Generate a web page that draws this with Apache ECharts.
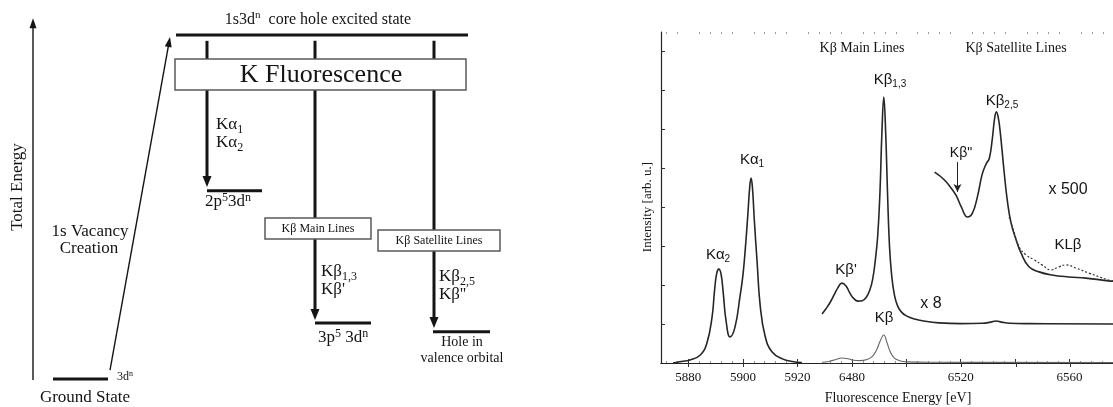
<!DOCTYPE html>
<html><head><meta charset="utf-8">
<script src="https://cdn.jsdelivr.net/npm/echarts@6/dist/echarts.min.js"></script>
<style>html,body{margin:0;padding:0;background:#fff}#c{width:1113px;height:407px}</style>
</head><body><div id="c"></div>
<script>
// ---------- Spectrum data ----------
const kaEnergy    = [5874.4,5877.5,5880.6,5884.3,5886.8,5888.7,5889.6,5890.4,5891.2,5892.0,5892.8,5893.8,5895.3,5897.1,5898.9,5900.0,5900.9,5901.8,5902.5,5903.0,5903.5,5904.2,5905.2,5906.3,5908.1,5910.7,5914.7,5918.0,5921.6];
const kaIntensity = [0.00,0.04,0.08,0.20,0.51,1.18,1.85,2.30,2.41,2.28,1.80,1.10,0.67,0.92,1.69,2.25,2.95,3.80,4.52,4.75,4.50,3.65,2.60,1.50,0.70,0.28,0.10,0.04,0.01];

const kbMainEnergy    = [6469.0,6470.5,6472.0,6473.5,6474.8,6476.3,6477.8,6479.2,6480.6,6482.2,6483.8,6485.2,6486.5,6487.6,6488.6,6489.5,6490.3,6491.0,6491.7,6492.4,6493.1,6493.8,6494.6,6495.6,6496.8,6498.3,6500.0,6503.0,6507.0,6512.0,6520.0,6528.0,6531.0,6533.0,6535.0,6538.0,6545.0,6576.0];
const kbMainIntensityX8 = [1.26,1.40,1.56,1.76,1.93,2.05,1.98,1.80,1.66,1.59,1.60,1.68,1.86,2.15,2.65,3.30,4.40,5.90,6.83,5.90,4.30,3.00,2.25,1.75,1.46,1.30,1.21,1.13,1.07,1.03,1.01,1.02,1.05,1.08,1.05,1.02,1.01,1.00];

const kbLowEnergy    = [6469.0,6471.5,6474.0,6476.3,6478.5,6480.5,6483.0,6485.5,6487.5,6489.0,6490.3,6491.7,6492.9,6494.0,6495.5,6497.5,6500.0,6510.0,6576.0];
const kbLowIntensity = [0.02,0.04,0.09,0.13,0.11,0.07,0.06,0.09,0.17,0.33,0.55,0.72,0.52,0.30,0.13,0.06,0.03,0.02,0.01];

const satEnergy    = [6510.4,6514.0,6517.0,6518.4,6520.2,6522.5,6524.3,6526.1,6527.9,6529.4,6530.5,6531.6,6532.4,6533.1,6533.8,6534.5,6536.0,6537.1,6538.5,6540.4,6542.2,6545.1,6548.8,6553.5,6559.7,6566.0,6574.4,6576.0];
const satIntensityX500 = [4.90,4.70,4.44,4.29,4.01,3.75,3.85,4.26,4.85,5.12,5.25,5.75,6.25,6.45,6.30,5.95,4.88,4.19,3.60,3.16,2.82,2.47,2.34,2.26,2.21,2.18,2.11,2.10];

const klbEnergy    = [6537.8,6539.6,6541.5,6544.1,6547.0,6549.9,6553.2,6556.1,6558.7,6562.3,6567.1,6574.4,6576.0];
const klbIntensity = [3.75,3.36,2.98,2.77,2.65,2.52,2.39,2.47,2.52,2.44,2.31,2.13,2.11];

// Kβ'' pointer arrow (energy, intensity from -> to)
const kbppArrowEnergy = 6518.8;
const kbppArrowFrom = 5.16, kbppArrowTo = 4.39;

// ---------- Tick labels ----------
const kaTickLabels = [5880, 5900, 5920];
const kbTickLabels = [6480, 6520, 6560];
const kbMajorTicks = [6480, 6500, 6520, 6540, 6560];
const intensityTicks = [1, 2, 3, 4, 5, 6, 7, 8];

// ---------- Energy level diagram (schematic, energy in % of core-hole energy) ----------
const levelEnergy = [0, 100, 54.7, 16.3, 13.7];          // ground, 1s core hole, 2p hole, 3p hole, valence hole
const levelStart  = [53, 176, 207, 315, 433];             // layout column start
const levelEnd    = [108, 468, 262, 371, 490];            // layout column end
const arrowX0 = [207, 315, 434, 110, 33];
const arrowE0 = [98.3, 98.3, 98.3, 2.6, -0.3];
const arrowX1 = [207, 315, 434, 170, 33];
const arrowE1 = [55.8, 17.15, 14.8, 99.4, 104.9];
const arrowKinds = ['thick', 'thick', 'thick', 'thin', 'thin'];
const boxX0 = [175, 265, 378];
const boxX1 = [466, 371, 500];
const boxETop = [93.0, 46.8, 43.3];
const boxEBottom = [84.0, 40.7, 37.2];

// ---------- helpers ----------
const zip = (a, b) => a.map((v, i) => [v, b[i]]);
const SERIF = '"Liberation Serif","DejaVu Serif",serif';
const SANS = '"Liberation Sans","DejaVu Sans",sans-serif';
const INK = '#141414';

function minorList(from, to, step, majors) {
  const out = [];
  for (let v = from; v <= to + 1e-9; v += step) if (majors.indexOf(v) < 0) out.push(v);
  return out;
}
const virtMajor = [5880,5900,5920,5940,5960,5980,6000,6020];
const virtMinor = minorList(5872, 6032, 4, virtMajor);
const kaMinor = minorList(5872, 5920, 4, [5880,5900,5920]);
const kbMinor = minorList(6472, 6572, 4, kbMajorTicks);

function rich(size, fam) {
  const lh = Math.round(size * 1.25);
  const s = Math.round(size * 0.68);
  return {
    b: {fontSize: size, fontFamily: fam, lineHeight: lh, color: INK},
    s: {fontSize: s, fontFamily: fam, lineHeight: s, padding: [lh - s + 1, 0, 0, 0], verticalAlign: 'bottom', color: INK},
    p: {fontSize: s, fontFamily: fam, lineHeight: s, verticalAlign: 'top', color: INK}
  };
}
function txt(x, y, text, size, fam, align, rot) {
  return {
    type: 'text', x: x, y: y, rotation: rot || 0, silent: true, z: 100,
    style: {
      text: text, rich: rich(size, fam), fontSize: size, fontFamily: fam, fill: INK,
      align: align || 'center', verticalAlign: 'middle',
      textAlign: align || 'center', textVerticalAlign: 'middle'
    }
  };
}

const graphics = [
  // right panel
  txt(862, 48, '{b|Kβ Main Lines}', 14, SERIF),
  txt(1016, 48, '{b|Kβ Satellite Lines}', 14, SERIF),
  txt(890, 80, '{b|Kβ}{s|1,3}', 15, SANS),
  txt(1002, 101, '{b|Kβ}{s|2,5}', 15, SANS),
  txt(961, 153, '{b|Kβ"}', 14, SANS),
  txt(1068, 190, '{b|x 500}', 16, SANS),
  txt(1068, 245, '{b|KLβ}', 15, SANS),
  txt(752, 160, '{b|Kα}{s|1}', 15, SANS),
  txt(718, 255, '{b|Kα}{s|2}', 15, SANS),
  txt(846, 270, "{b|Kβ'}", 15, SANS),
  txt(884, 318, '{b|Kβ}', 15, SANS),
  txt(931, 304, '{b|x 8}', 16, SANS),
  txt(898, 398, '{b|Fluorescence Energy [eV]}', 14, SERIF),
  txt(648, 207, '{b|Intensity [arb. u.]}', 13, SERIF, 'center', Math.PI / 2),
  // diagram
  txt(18, 187, '{b|Total Energy}', 17, SERIF, 'center', Math.PI / 2),
  txt(318, 20, '{b|1s3d}{p|n}{b|  core hole excited state}', 16, SERIF),
  txt(321, 75, '{b|K Fluorescence}', 26, SERIF),
  txt(216, 125, '{b|Kα}{s|1}', 17, SERIF, 'left'),
  txt(216, 143, '{b|Kα}{s|2}', 17, SERIF, 'left'),
  txt(228, 202, '{b|2p}{p|5}{b|3d}{p|n}', 17, SERIF),
  txt(318, 229, '{b|Kβ Main Lines}', 12, SERIF),
  txt(439, 241, '{b|Kβ Satellite Lines}', 12, SERIF),
  txt(321, 272, '{b|Kβ}{s|1,3}', 17, SERIF, 'left'),
  txt(321, 290, "{b|Kβ'}", 17, SERIF, 'left'),
  txt(343, 338, '{b|3p}{p|5}{b| 3d}{p|n}', 17, SERIF),
  txt(439, 277, '{b|Kβ}{s|2,5}', 17, SERIF, 'left'),
  txt(439, 295, "{b|Kβ''}", 17, SERIF, 'left'),
  txt(462, 342, '{b|Hole in}', 14, SERIF),
  txt(462, 358, '{b|valence orbital}', 14, SERIF),
  txt(90, 232, '{b|1s Vacancy}', 17, SERIF),
  txt(89, 249, '{b|Creation}', 17, SERIF),
  txt(117, 377, '{b|3d}{p|n}', 12, SERIF, 'left'),
  txt(85, 398, '{b|Ground State}', 17, SERIF)
];

const axisLineStyle = {color: '#222', width: 1.2};
const tickStyle = {color: '#333', width: 1};
const plainLabel = v => String(v);

function spectrum(xi, energy, inten, color, width, type) {
  return {type: 'line', xAxisIndex: xi, yAxisIndex: xi === 0 ? 0 : 1, data: zip(energy, inten),
    showSymbol: false, symbol: 'none', smooth: 0.45, silent: true,
    lineStyle: {color: color, width: width, type: type || 'solid'}};
}

const satSeries = spectrum(2, satEnergy, satIntensityX500, '#262626', 1.6);
satSeries.markLine = {silent: true, symbol: ['none', 'arrow'], symbolSize: [6, 8], label: {show: false},
  lineStyle: {color: '#222', width: 1, type: 'solid'},
  data: [[{coord: [kbppArrowEnergy, kbppArrowFrom]}, {coord: [kbppArrowEnergy, kbppArrowTo]}]]};

const option = {
  animation: false,
  backgroundColor: '#fff',
  grid: [
    {left: 661, top: 32, width: 53 * 2.73, height: 331},
    {left: 822.07, top: 32, width: 107 * 2.73, height: 331},
    {left: 661, top: 32, width: 452, height: 331},
    {left: 0, top: 35, width: 520, height: 344}
  ],
  xAxis: [
    {gridIndex: 0, type: 'value', min: 5870, max: 5923, position: 'bottom',
     axisLine: {lineStyle: axisLineStyle}, splitLine: {show: false},
     axisTick: {inside: true, length: 4, lineStyle: tickStyle, customValues: kaTickLabels},
     axisLabel: {customValues: kaTickLabels, formatter: plainLabel, fontFamily: SERIF, fontSize: 13, color: INK, margin: 8}},
    {gridIndex: 0, type: 'value', min: 5870, max: 5923, position: 'bottom',
     axisLine: {show: false}, splitLine: {show: false}, axisLabel: {show: false},
     axisTick: {inside: true, length: 2, lineStyle: {color: '#999', width: 1}, customValues: kaMinor}},
    {gridIndex: 1, type: 'value', min: 6469, max: 6576, position: 'bottom',
     axisLine: {lineStyle: axisLineStyle}, splitLine: {show: false},
     axisTick: {inside: true, length: 4, lineStyle: tickStyle, customValues: kbMajorTicks},
     axisLabel: {customValues: kbTickLabels, formatter: plainLabel, fontFamily: SERIF, fontSize: 13, color: INK, margin: 8}},
    {gridIndex: 1, type: 'value', min: 6469, max: 6576, position: 'bottom',
     axisLine: {show: false}, splitLine: {show: false}, axisLabel: {show: false},
     axisTick: {inside: true, length: 2, lineStyle: {color: '#999', width: 1}, customValues: kbMinor}},
    {gridIndex: 2, type: 'value', min: 5870, max: 5870 + 452 / 2.73, position: 'top',
     axisLine: {lineStyle: axisLineStyle}, splitLine: {show: false}, axisLabel: {show: false},
     axisTick: {inside: true, length: 4, lineStyle: tickStyle, customValues: virtMajor}},
    {gridIndex: 2, type: 'value', min: 5870, max: 5870 + 452 / 2.73, position: 'top',
     axisLine: {show: false}, splitLine: {show: false}, axisLabel: {show: false},
     axisTick: {inside: true, length: 2, lineStyle: {color: '#999', width: 1}, customValues: virtMinor}},
    {gridIndex: 3, type: 'value', min: 0, max: 520, show: false}
  ],
  yAxis: [
    {gridIndex: 0, type: 'value', min: 0, max: 8.5, show: false},
    {gridIndex: 1, type: 'value', min: 0, max: 8.5, show: false},
    {gridIndex: 2, type: 'value', min: 0, max: 8.5, position: 'left',
     axisLine: {show: true, lineStyle: axisLineStyle}, splitLine: {show: false}, axisLabel: {show: false},
     axisTick: {show: true, inside: true, length: 4, lineStyle: tickStyle, customValues: intensityTicks}},
    {gridIndex: 3, type: 'value', min: 0, max: 100, show: false}
  ],
  series: [
    spectrum(0, kaEnergy, kaIntensity, '#262626', 1.6),
    spectrum(2, kbMainEnergy, kbMainIntensityX8, '#262626', 1.6),
    spectrum(2, kbLowEnergy, kbLowIntensity, '#666', 1.1),
    satSeries,
    spectrum(2, klbEnergy, klbIntensity, '#333', 1.2, [2, 2]),
    // diagram: arrows (under the boxes)
    {type: 'custom', xAxisIndex: 6, yAxisIndex: 3, silent: true, clip: false,
     data: arrowX0.map((v, i) => [v, arrowE0[i], arrowX1[i], arrowE1[i]]),
     renderItem: function (params, api) {
       const p0 = api.coord([api.value(0), api.value(1)]);
       const p1 = api.coord([api.value(2), api.value(3)]);
       const thick = arrowKinds[params.dataIndex] === 'thick';
       const lw = thick ? 3 : 1.4, hl = thick ? 11 : 10, hw = thick ? 4.5 : 3.5;
       const dx = p1[0] - p0[0], dy = p1[1] - p0[1], len = Math.hypot(dx, dy);
       const ux = dx / len, uy = dy / len;
       const bx = p1[0] - ux * hl, by = p1[1] - uy * hl;
       return {type: 'group', children: [
         {type: 'line', shape: {x1: p0[0], y1: p0[1], x2: bx + ux, y2: by + uy}, style: {stroke: INK, lineWidth: lw}},
         {type: 'polygon', shape: {points: [[p1[0], p1[1]], [bx - uy * hw, by + ux * hw], [bx + uy * hw, by - ux * hw]]}, style: {fill: INK}}
       ]};
     }},
    // diagram: energy levels
    {type: 'custom', xAxisIndex: 6, yAxisIndex: 3, silent: true, clip: false,
     data: levelStart.map((v, i) => [v, levelEnd[i], levelEnergy[i]]),
     renderItem: function (params, api) {
       const p0 = api.coord([api.value(0), api.value(2)]);
       const p1 = api.coord([api.value(1), api.value(2)]);
       return {type: 'line', shape: {x1: p0[0], y1: p0[1], x2: p1[0], y2: p1[1]}, style: {stroke: INK, lineWidth: 3}};
     }},
    // diagram: boxes
    {type: 'custom', xAxisIndex: 6, yAxisIndex: 3, silent: true, clip: false,
     data: boxX0.map((v, i) => [v, boxX1[i], boxETop[i], boxEBottom[i]]),
     renderItem: function (params, api) {
       const p0 = api.coord([api.value(0), api.value(2)]);
       const p1 = api.coord([api.value(1), api.value(3)]);
       return {type: 'rect', shape: {x: p0[0], y: p0[1], width: p1[0] - p0[0], height: p1[1] - p0[1]},
               style: {fill: '#fff', stroke: '#5a5a5a', lineWidth: 1.5}};
     }}
  ],
  graphic: graphics
};

const chart = echarts.init(document.getElementById('c'));
chart.setOption(option);
</script></body></html>
